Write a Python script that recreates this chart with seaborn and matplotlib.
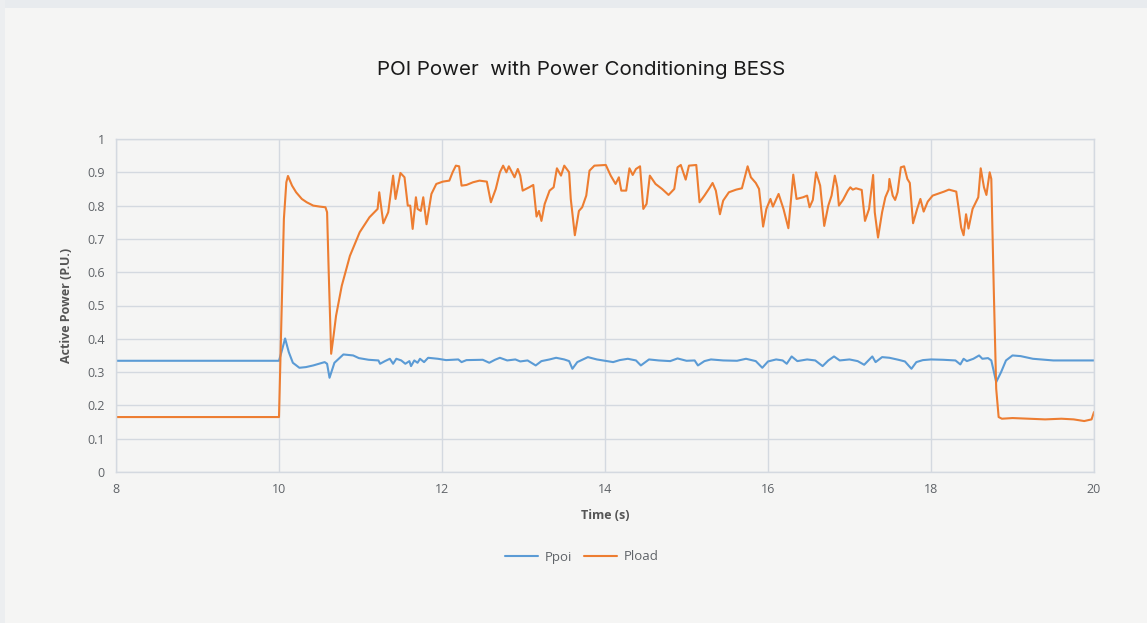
import pandas as pd
import numpy as np
import matplotlib.pyplot as plt
import seaborn as sns
from matplotlib.patches import Rectangle

# values
t_load = [8.0, 10.0, 10.03, 10.06, 10.09, 10.11, 10.16, 10.21, 10.28, 10.34, 10.42, 10.50, 10.57,
          10.59, 10.61, 10.64, 10.67, 10.70, 10.77, 10.87, 10.99, 11.11, 11.21, 11.23, 11.28, 11.34,
          11.40, 11.43, 11.49, 11.54, 11.58, 11.61, 11.64, 11.68, 11.70, 11.74, 11.77, 11.81, 11.87,
          11.93, 12.01, 12.09, 12.13, 12.17, 12.21, 12.24, 12.30, 12.38, 12.46, 12.55, 12.60, 12.66,
          12.71, 12.75, 12.79, 12.82, 12.89, 12.93, 12.96, 12.99, 13.07, 13.12, 13.16, 13.19, 13.22,
          13.26, 13.32, 13.37, 13.41, 13.46, 13.50, 13.56, 13.58, 13.63, 13.68, 13.72, 13.77, 13.81,
          13.87, 14.01, 14.07, 14.13, 14.17, 14.20, 14.26, 14.30, 14.34, 14.38, 14.43, 14.47, 14.51,
          14.55, 14.62, 14.70, 14.78, 14.85, 14.89, 14.93, 14.99, 15.03, 15.12, 15.16, 15.22, 15.28,
          15.32, 15.36, 15.41, 15.45, 15.52, 15.61, 15.68, 15.72, 15.75, 15.79, 15.85, 15.89, 15.94,
          15.98, 16.03, 16.06, 16.13, 16.19, 16.25, 16.31, 16.35, 16.43, 16.48, 16.51, 16.55, 16.59,
          16.64, 16.69, 16.74, 16.78, 16.82, 16.85, 16.87, 16.92, 16.98, 17.01, 17.04, 17.08, 17.15,
          17.19, 17.24, 17.29, 17.31, 17.35, 17.40, 17.44, 17.48, 17.49, 17.53, 17.56, 17.59, 17.63,
          17.67, 17.71, 17.74, 17.78, 17.83, 17.87, 17.91, 17.96, 18.02, 18.10, 18.16, 18.22, 18.31,
          18.34, 18.37, 18.40, 18.43, 18.46, 18.51, 18.58, 18.61, 18.65, 18.68, 18.72, 18.74, 18.77,
          18.80, 18.83, 18.87, 19.0, 19.2, 19.4, 19.6, 19.75, 19.88, 19.97, 20.0]
p_load = [0.165, 0.165, 0.46, 0.76, 0.87, 0.889, 0.86, 0.84, 0.82, 0.81, 0.80, 0.797, 0.795,
          0.78, 0.60, 0.355, 0.41, 0.469, 0.559, 0.649, 0.72, 0.765, 0.79, 0.84, 0.747, 0.78,
          0.89, 0.82, 0.898, 0.885, 0.80, 0.80, 0.73, 0.825, 0.79, 0.784, 0.825, 0.744, 0.835,
          0.865, 0.872, 0.875, 0.90, 0.92, 0.918, 0.86, 0.862, 0.87, 0.875, 0.872, 0.81, 0.85,
          0.90, 0.92, 0.90, 0.918, 0.885, 0.91, 0.89, 0.845, 0.855, 0.862, 0.767, 0.784, 0.754,
          0.805, 0.845, 0.855, 0.912, 0.89, 0.92, 0.90, 0.82, 0.711, 0.784, 0.795, 0.83, 0.905,
          0.92, 0.922, 0.89, 0.865, 0.885, 0.845, 0.845, 0.912, 0.892, 0.91, 0.918, 0.79, 0.805,
          0.89, 0.865, 0.85, 0.832, 0.85, 0.915, 0.922, 0.878, 0.92, 0.922, 0.81, 0.83, 0.852,
          0.868, 0.845, 0.774, 0.815, 0.84, 0.848, 0.852, 0.89, 0.918, 0.885, 0.868, 0.85, 0.737,
          0.79, 0.82, 0.797, 0.835, 0.79, 0.732, 0.893, 0.82, 0.825, 0.83, 0.795, 0.817, 0.90,
          0.86, 0.739, 0.80, 0.83, 0.89, 0.855, 0.80, 0.817, 0.845, 0.855, 0.848, 0.852, 0.847,
          0.754, 0.79, 0.892, 0.78, 0.704, 0.78, 0.825, 0.848, 0.88, 0.83, 0.817, 0.84, 0.915,
          0.918, 0.88, 0.868, 0.747, 0.79, 0.82, 0.782, 0.812, 0.83, 0.837, 0.842, 0.848, 0.842,
          0.79, 0.734, 0.711, 0.774, 0.731, 0.79, 0.825, 0.912, 0.855, 0.832, 0.90, 0.88, 0.55,
          0.25, 0.165, 0.16, 0.162, 0.16, 0.158, 0.16, 0.158, 0.153, 0.158, 0.18]

t_poi = [8.0, 10.0, 10.03, 10.075, 10.12, 10.17, 10.25, 10.33, 10.42, 10.56, 10.59, 10.62, 10.68,
         10.79, 10.91, 10.98, 11.10, 11.22, 11.24, 11.30, 11.36, 11.40, 11.44, 11.50, 11.55, 11.60,
         11.62, 11.66, 11.70, 11.73, 11.78, 11.83, 11.95, 12.05, 12.20, 12.24, 12.30, 12.50, 12.58,
         12.65, 12.71, 12.80, 12.90, 12.96, 13.05, 13.15, 13.22, 13.32, 13.40, 13.50, 13.56, 13.60,
         13.66, 13.79, 13.90, 14.00, 14.10, 14.18, 14.28, 14.38, 14.44, 14.54, 14.66, 14.80, 14.89,
         15.00, 15.10, 15.14, 15.22, 15.30, 15.45, 15.62, 15.73, 15.85, 15.93, 16.00, 16.10, 16.18,
         16.23, 16.29, 16.36, 16.48, 16.58, 16.67, 16.74, 16.81, 16.88, 17.00, 17.10, 17.18, 17.28,
         17.32, 17.40, 17.49, 17.60, 17.68, 17.76, 17.82, 17.90, 18.00, 18.15, 18.30, 18.36, 18.40,
         18.44, 18.52, 18.59, 18.63, 18.70, 18.74, 18.80, 18.86, 18.92, 19.0, 19.1, 19.25, 19.5, 20.0]
p_poi = [0.334, 0.334, 0.36, 0.401, 0.36, 0.328, 0.313, 0.315, 0.32, 0.33, 0.325, 0.283, 0.328,
         0.353, 0.35, 0.342, 0.337, 0.335, 0.325, 0.333, 0.34, 0.325, 0.34, 0.335, 0.325, 0.333,
         0.318, 0.335, 0.328, 0.34, 0.33, 0.343, 0.34, 0.336, 0.338, 0.33, 0.336, 0.337, 0.328,
         0.337, 0.343, 0.335, 0.338, 0.332, 0.335, 0.32, 0.333, 0.338, 0.343, 0.338, 0.333, 0.31,
         0.33, 0.345, 0.338, 0.334, 0.33, 0.336, 0.34, 0.335, 0.32, 0.338, 0.335, 0.333, 0.341,
         0.334, 0.335, 0.32, 0.333, 0.338, 0.335, 0.334, 0.34, 0.333, 0.313, 0.332, 0.338, 0.335,
         0.325, 0.347, 0.333, 0.338, 0.335, 0.318, 0.335, 0.347, 0.335, 0.338, 0.333, 0.322, 0.347,
         0.33, 0.345, 0.343, 0.337, 0.332, 0.31, 0.33, 0.336, 0.338, 0.337, 0.335, 0.323, 0.34,
         0.333, 0.34, 0.35, 0.34, 0.342, 0.335, 0.27, 0.30, 0.335, 0.35, 0.348, 0.34, 0.335, 0.335]

series_names = ["Ppoi", "Pload"]
colors = ["#5B9BD5", "#ED7D31"]
x_ticks = [8, 10, 12, 14, 16, 18, 20]
y_ticks = [0, 0.1, 0.2, 0.3, 0.4, 0.5, 0.6, 0.7, 0.8, 0.9, 1]
y_tick_labels = ["0", "0.1", "0.2", "0.3", "0.4", "0.5", "0.6", "0.7", "0.8", "0.9", "1"]

df = pd.concat([
    pd.DataFrame({"t": t_poi, "p": p_poi, "series": "Ppoi"}),
    pd.DataFrame({"t": t_load, "p": p_load, "series": "Pload"}),
], ignore_index=True)

sns.set_theme(style="whitegrid")
plt.rcParams["font.family"] = ["Open Sans", "DejaVu Sans"]

bg = "#f5f5f4"
grid_c = "#d4d9e0"
txt_c = "#5f6368"

fig = plt.figure(figsize=(11.47, 6.23), dpi=100, facecolor=bg)
# faint frame around the card
fig.patches.append(Rectangle((0, 1 - 8 / 623), 1, 8 / 623, transform=fig.transFigure,
                             facecolor="#e8ebee", edgecolor="none", zorder=0))
fig.patches.append(Rectangle((0, 0), 5 / 1147, 1, transform=fig.transFigure,
                             facecolor="#eceef0", edgecolor="none", zorder=0))

ax = fig.add_axes([116 / 1147, 1 - 472 / 623, 978 / 1147, 333 / 623])
ax.set_facecolor(bg)

sns.lineplot(data=df, x="t", y="p", hue="series", hue_order=series_names,
             palette=colors, estimator=None, sort=False, linewidth=1.5, ax=ax)

ax.set_xlim(8, 20)
ax.set_ylim(0, 1)
ax.set_xticks(x_ticks)
ax.set_yticks(y_ticks)
ax.set_yticklabels(y_tick_labels)
ax.grid(True, color=grid_c, linewidth=1)
for s in ax.spines.values():
    s.set_visible(True)
    s.set_color(grid_c)
    s.set_linewidth(1)
ax.tick_params(length=0, labelsize=9, labelcolor=txt_c, pad=8)

ax.set_xlabel("Time (s)", fontsize=9, fontweight="bold", color="#555555", labelpad=9)
ax.set_ylabel("Active Power (P.U.)", fontsize=9, fontweight="bold", color="#555555", labelpad=10)

fig.text(581 / 1147, 1 - 70 / 623, "POI Power  with Power Conditioning BESS",
         ha="center", va="center", fontsize=14.8, color="#1a1a1a", family=["Inter", "DejaVu Sans"])

handles, labels = ax.get_legend_handles_labels()
ax.legend(handles, labels, loc="center", bbox_to_anchor=(582 / 1147, 1 - 557 / 623),
          bbox_transform=fig.transFigure, ncol=2, frameon=False, fontsize=9.5,
          labelcolor=txt_c, handlelength=2.5, columnspacing=0.9, handletextpad=0.5)

fig.savefig("out.png", dpi=100, facecolor=bg)
